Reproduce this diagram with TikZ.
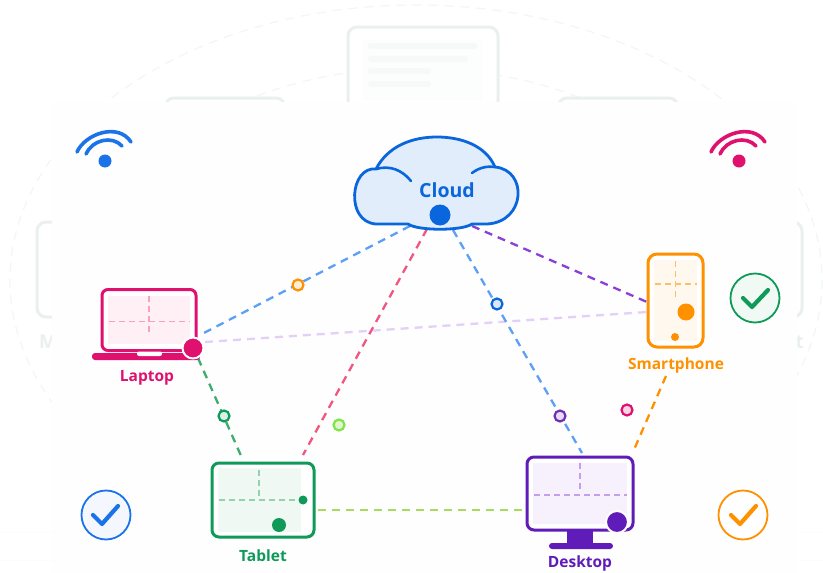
\documentclass[tikz,border=0pt]{standalone}
\usepackage{fontspec}
\setmainfont{Open Sans}
\definecolor{ghost}{HTML}{EAF0ED}
\definecolor{ghostline}{HTML}{F6F9F7}
\definecolor{cblue}{HTML}{0A66DC}
\definecolor{lblue}{HTML}{5CA0F6}
\definecolor{wblue}{HTML}{1A73E8}
\definecolor{cpink}{HTML}{E0106F}
\definecolor{lpink}{HTML}{F2557F}
\definecolor{cgreen}{HTML}{0F9A5A}
\definecolor{lgreen}{HTML}{3DAD6E}
\definecolor{cpurple}{HTML}{5F1CB8}
\definecolor{lpurple}{HTML}{8A3FD8}
\definecolor{lilac}{HTML}{E4CFF8}
\definecolor{corange}{HTML}{FF9100}
\definecolor{lime}{HTML}{A6DC5E}
\definecolor{mask}{HTML}{FEFEFE}
\definecolor{fpink}{HTML}{FFF0F6}
\definecolor{fgreen}{HTML}{EFF8F3}
\definecolor{fpurple}{HTML}{F7F1FD}
\definecolor{forange}{HTML}{FFF8EE}
\tikzset{
  x=1pt,y=-1pt,
  link/.style={line width=2.3pt,dash pattern=on 8pt off 6pt},
  cross/.style={line width=1.6pt,dash pattern=on 6pt off 4pt},
  device/.style={draw=#1,line width=3pt,rounded corners=7pt,inner sep=0pt,fill=white},
  label/.style={text=#1,font=\bfseries\fontsize{15.5}{18}\selectfont,inner sep=0pt},
  pin/.style={circle,draw=#1,line width=2.2pt,minimum size=11pt,inner sep=0pt},
  blob/.style={circle,fill=#1,inner sep=0pt},
  ringdot/.style={circle,fill=#1,draw=white,line width=2pt,inner sep=0pt},
  okring/.style={circle,draw=#1,line width=1.8pt,minimum size=49pt,inner sep=0pt},
  tick/.style={draw=#1,line width=4.2pt,line cap=round,line join=round},
  wave/.style={draw=#1,line width=3.6pt,line cap=round},
  ghostbox/.style={draw=ghost,line width=3pt,rounded corners=9pt},
  ghostarc/.style={draw=ghost!60,line width=1.2pt,dash pattern=on 9pt off 7pt},
}
\begin{document}
\begin{tikzpicture}
\useasboundingbox (0,0) rectangle (823,573);
\fill[white] (0,0) rectangle (823,573);
% ghost background layer
\draw[ghostarc] (416,280) ellipse [x radius=406,y radius=275];
\draw[ghostarc] (416,280) ellipse [x radius=320,y radius=212];
\draw[ghostbox,fill=white] (348,27) rectangle (498,180);
\fill[ghostline!30] (363,40) rectangle (482,100);
\foreach \yy/\xx in {46/474,59/465,71/428,84/428}
  \draw[ghostline,line width=6pt,line cap=round] (371,\yy) -- (\xx,\yy);
\draw[ghostbox,fill=white] (165,98) rectangle (285,200);
\draw[ghostbox,fill=white] (558,98) rectangle (678,200);
\draw[ghostbox] (37,222) rectangle (120,317);
\draw[ghostbox] (720,222) rectangle (802,317);
\node[anchor=west,text=ghost,inner sep=0pt,font=\bfseries\fontsize{19}{20}\selectfont] (ghostm) at (39,342) {M};
\node[anchor=east,text=ghost,inner sep=0pt,font=\bfseries\fontsize{19}{20}\selectfont] (ghostt) at (804,342) {t};
\draw[ghostline!40,line width=1pt] (0,532) -- (823,532) (0,560) -- (823,560);
\fill[mask] (52,102) rectangle (797,573);

% wifi
\draw[wave=wblue] (77,152) .. controls (85,134) and (118,122) .. (131,142);
\draw[wave=wblue] (86,154) .. controls (92,140) and (112,135) .. (122,146);
\node[blob=wblue,minimum size=13pt] (wifia) at (105,161) {};
\draw[wave=cpink] (711,152) .. controls (719,134) and (752,122) .. (765,142);
\draw[wave=cpink] (720,154) .. controls (726,140) and (746,135) .. (756,146);
\node[blob=cpink,minimum size=13pt] (wifib) at (739,161) {};

% connector ends
\coordinate (cA) at (410,226); \coordinate (cB) at (427,229);
\coordinate (cC) at (453,230); \coordinate (cD) at (472,226);
\coordinate (lA) at (200,335); \coordinate (lB) at (205,342); \coordinate (lC) at (198,358);
\coordinate (tA) at (303,455); \coordinate (tB) at (242,458); \coordinate (tC) at (318,510);
\coordinate (dA) at (582,453); \coordinate (dB) at (526,510); \coordinate (dC) at (633,452);
\coordinate (sA) at (647,302); \coordinate (sB) at (647,312); \coordinate (sC) at (666,376);

\draw[link,draw=lilac] (lB) -- (sB);
\draw[link,draw=lblue] (cA) -- (lA);
\draw[link,draw=lpink] (cB) -- (tA);
\draw[link,draw=lblue] (cC) -- (dA);
\draw[link,draw=lpurple] (cD) -- (sA);
\draw[link,draw=lgreen] (lC) -- (tB);
\draw[link,draw=lime] (tC) -- (dB);
\draw[link,draw=corange] (sC) -- (dC);

\node[pin=corange,fill=corange!15] (p1) at (298,285) {};
\node[pin=cblue,fill=cblue!15] (p2) at (497,304) {};
\node[pin=lpurple!80!black,fill=lpurple!20] (p3) at (560,416) {};
\node[pin=cgreen,fill=cgreen!15] (p4) at (224,416) {};
\node[pin=lime!75!green,fill=lime!30] (p5) at (339,425) {};
\node[pin=cpink,fill=cpink!18] (p6) at (627,410) {};

% cloud
\coordinate (cloudc) at (437,185);
\path[fill=cblue!12,draw=cblue,line width=2.8pt,line join=round]
  (408,224) -- (376,224) .. controls (345,222) and (350,166) .. (376,169)
  .. controls (388,146) and (412,137) .. (437,137)
  .. controls (462,137) and (486,146) .. (495,167)
  .. controls (528,170) and (526,222) .. (487,224)
  -- (472,224) .. controls (462,231) and (418,231) .. (408,224) -- cycle;
\draw[draw=cblue,line width=2.6pt,line cap=round] (376,169) .. controls (390,165) and (402,170) .. (411,181);
\draw[draw=cblue,line width=2.6pt,line cap=round] (472,173) .. controls (480,167) and (488,166) .. (495,167);
\node[text=cblue,font=\bfseries\fontsize{19.5}{22}\selectfont,inner sep=0pt] (cloudt) at (447,190.5) {Cloud};
\node[blob=cblue,minimum size=21pt] (cloudd) at (440,215) {};

% laptop
\node[device=cpink,rounded corners=6pt,minimum width=94pt,minimum height=61pt] (laptop) at (149,320) {};
\fill[fpink] (108,296) rectangle (190,344);
\draw[cross,draw=lpink!55] (149,296) -- (149,334) (109,321.5) -- (190,321.5);
\fill[cpink,rounded corners=3pt] (92,353) rectangle (200,360);
\fill[white,rounded corners=2pt] (137,351.5) rectangle (162,356);
\node[ringdot=cpink,minimum size=21pt] (laptopd) at (193,348) {};
\node[label=cpink] (laptopl) at (147,378) {Laptop};

% tablet
\node[device=cgreen,minimum width=102pt,minimum height=74pt] (tablet) at (263,500) {};
\fill[fgreen] (218,468) rectangle (301,532);
\draw[cross,draw=lgreen!55] (259,470) -- (259,498) (219,500) -- (300,500);
\node[blob=cgreen,minimum size=9pt] (tablete) at (303,500) {};
\node[blob=cgreen,minimum size=14pt] (tabletd) at (279,525) {};
\node[label=cgreen] (tabletl) at (263,556) {Tablet};

% desktop
\fill[cpurple] (567,530) -- (593,530) -- (593,545) -- (567,545) -- cycle;
\fill[cpurple,rounded corners=3pt] (549,543) rectangle (613,549);
\node[device=cpurple,minimum width=106pt,minimum height=73pt] (desktop) at (580,493.5) {};
\fill[fpurple] (533,463) rectangle (627,524);
\draw[cross,draw=lpurple!50] (580,463) -- (580,492) (534,495) -- (627,495);
\node[ringdot=cpurple,minimum size=22pt] (desktopd) at (617,522) {};
\node[label=cpurple] (desktopl) at (580,563) {Desktop};

% smartphone
\node[device=corange,rounded corners=9pt,minimum width=55pt,minimum height=93pt] (phone) at (675.5,300.5) {};
\fill[forange] (654,260) rectangle (697,341);
\draw[cross,draw=corange!60] (675.5,261) -- (675.5,300) (655,284) -- (697,284);
\node[blob=corange,minimum size=17pt] (phoned) at (686,312) {};
\node[blob=corange,minimum size=8pt] (phonee) at (675,337) {};
\node[label=corange] (phonel) at (676,365) {Smartphone};

% check marks
\node[okring=cgreen,fill=cgreen!6] (okg) at (755,298) {};
\draw[tick=cgreen] (743,298) -- (752,307) -- (768,290);
\node[okring=wblue,fill=wblue!5] (okb) at (106,515) {};
\draw[tick=wblue] (93,515) -- (102,524) -- (118,506);
\node[okring=corange,fill=white] (oko) at (743,515) {};
\draw[tick=corange] (731,515) -- (740,524) -- (756,506);
\end{tikzpicture}
\end{document}
